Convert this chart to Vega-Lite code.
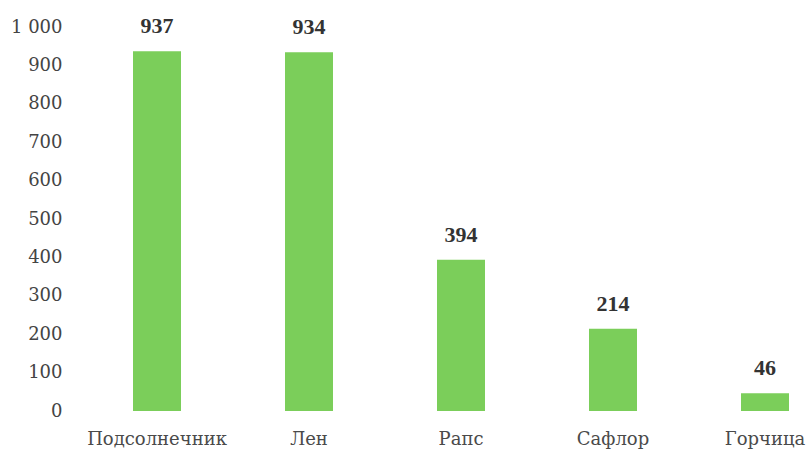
{
  "$schema": "https://vega.github.io/schema/vega-lite/v6.json",
  "width": 727,
  "height": 384,
  "autosize": "none",
  "padding": {"left": 81, "top": 27, "right": 0, "bottom": 43},
  "background": "#ffffff",
  "config": {
    "view": {"stroke": null},
    "font": "Liberation Serif"
  },
  "data": {
    "values": [
      {"crop": "Подсолнечник", "value": 937},
      {"crop": "Лен", "value": 934},
      {"crop": "Рапс", "value": 394},
      {"crop": "Сафлор", "value": 214},
      {"crop": "Горчица", "value": 46}
    ]
  },
  "encoding": {
    "x": {
      "field": "crop",
      "type": "nominal",
      "sort": null,
      "scale": {"range": [0, 760], "paddingInner": 0, "paddingOuter": 0},
      "axis": {
        "title": null,
        "domain": false,
        "ticks": false,
        "labelAngle": 0,
        "labelFont": "DejaVu Serif",
        "labelFontSize": 18,
        "labelColor": "#4a4a4a",
        "labelPadding": 19
      }
    },
    "y": {
      "field": "value",
      "type": "quantitative",
      "scale": {"domain": [0, 1000]},
      "axis": {
        "title": null,
        "domain": false,
        "ticks": false,
        "grid": false,
        "values": [0, 100, 200, 300, 400, 500, 600, 700, 800, 900, 1000],
        "labelExpr": "datum.value == 1000 ? '1 000' : datum.label",
        "labelFont": "DejaVu Serif",
        "labelFontSize": 18,
        "labelColor": "#444444",
        "labelPadding": 19
      }
    }
  },
  "layer": [
    {
      "mark": {"type": "bar", "size": 48, "color": "#7bce5a"}
    },
    {
      "mark": {
        "type": "text",
        "baseline": "alphabetic",
        "dy": -18,
        "font": "Liberation Serif",
        "fontSize": 22,
        "fontWeight": "bold",
        "color": "#333333"
      },
      "encoding": {"text": {"field": "value", "type": "quantitative"}}
    }
  ]
}
